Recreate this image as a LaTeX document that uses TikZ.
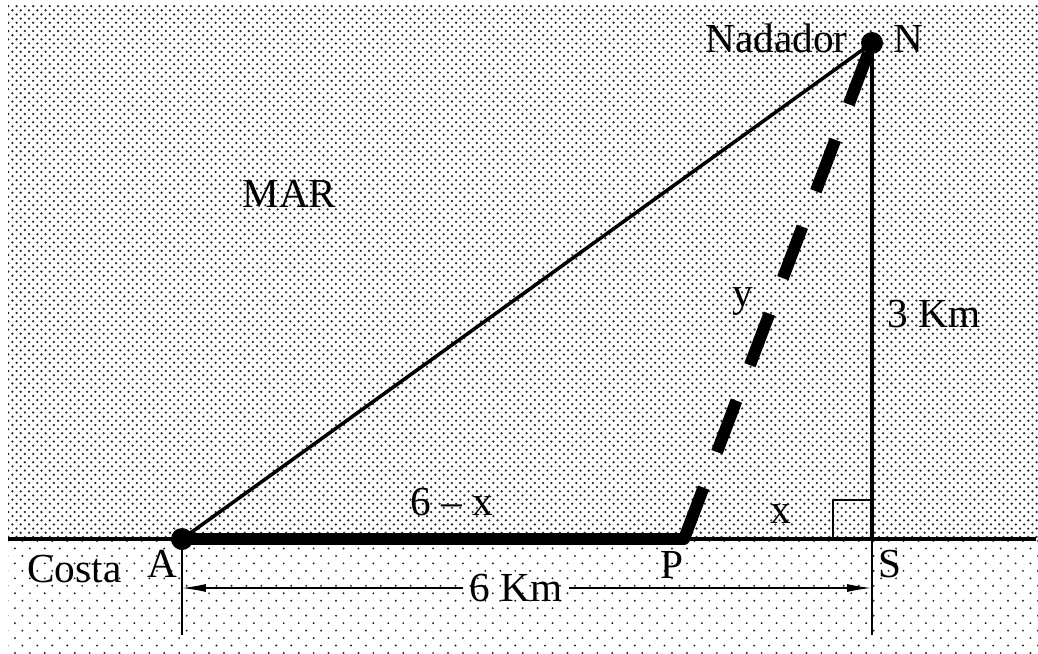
\documentclass[tikz,border=0pt]{standalone}
\usepackage{fontspec}
\setmainfont{Liberation Serif}
\usepackage{tikz}
\usetikzlibrary{arrows.meta, positioning, patterns}

\pgfdeclarepatternformonly{sea dots}{\pgfqpoint{-0.8pt}{-0.8pt}}{\pgfqpoint{3.2pt}{3.2pt}}{\pgfqpoint{4.72pt}{4.72pt}}{%
  \pgfpathcircle{\pgfpointorigin}{0.72pt}%
  \pgfpathcircle{\pgfqpoint{2.36pt}{2.36pt}}{0.72pt}%
  \pgfusepath{fill}}
\pgfdeclarepatternformonly{land dots}{\pgfqpoint{-0.8pt}{-0.8pt}}{\pgfqpoint{5.1pt}{5.1pt}}{\pgfqpoint{8.5pt}{8.5pt}}{%
  \pgfpathcircle{\pgfpointorigin}{0.62pt}%
  \pgfpathcircle{\pgfqpoint{4.25pt}{4.25pt}}{0.62pt}%
  \pgfusepath{fill}}

\begin{document}
\begin{tikzpicture}[x=0.02cm, y=-0.02cm,
    sea/.style={pattern=sea dots, pattern color=black!85},
    land/.style={pattern=land dots, pattern color=black!85},
    pointdot/.style={circle, fill=black, inner sep=0pt, minimum size=0.44cm},
    label text/.style={inner sep=0pt, font=\fontsize{23.5}{28}\selectfont},
    main line/.style={line width=2pt},
    fine line/.style={line width=0.9pt},
    swim/.style={line width=0.24cm, line cap=round},
    swim dashed/.style={line width=0.24cm, dash pattern=on 1.1cm off 0.76cm},
    dim arrow/.style={-{Latex[length=0.48cm, width=0.16cm]}, line width=0.6pt},
]

    \useasboundingbox (0,0) rectangle (1038,653);

    % ── Sea and shore ──
    \fill[sea] (8,5) rectangle (1038,539);
    \fill[land] (8,539) rectangle (1038,653);

    \coordinate (coastW) at (8,539);
    \coordinate (coastE) at (1036,539);
    \coordinate (A) at (182,539);
    \coordinate (P) at (684,539);
    \coordinate (S) at (872,539);
    \coordinate (N) at (872,43);
    \coordinate (Adown) at (182,635);
    \coordinate (Sdown) at (872,635);

    \draw[main line] (coastW) -- (coastE);

    % ── Triangle ──
    \draw[main line] (A) -- (N);
    \draw[main line] (N) -- (S);
    \draw[fine line] (A) -- (Adown);
    \draw[fine line] (S) -- (Sdown);
    \draw[fine line] ([xshift=-0.78cm]S) |- ([yshift=0.78cm]S);

    \draw[swim] (A) -- (P);
    \draw[swim dashed] (P) -- (N);

    \node[pointdot] (Adot) at (A) {};
    \node[pointdot] (Ndot) at (N) {};

    % ── Dimension ──
    \coordinate (dimA) at (182,588);
    \coordinate (dimS) at (871,588);
    \node[label text, inner sep=0.12cm] (dimlabel) at (516,588) {6 Km};
    \draw[dim arrow] (dimlabel) -- (dimA);
    \draw[dim arrow] (dimlabel) -- (dimS);

    % ── Labels ──
    \node[label text, anchor=base east] (nadador) at (848,52) {Nadador};
    \node[label text, anchor=base west] (nlabel) at (893,52) {N};
    \node[label text, anchor=base west] (mar) at (242,207) {MAR};
    \node[label text, anchor=base west] (ylabel) at (732,306) {y};
    \node[label text, anchor=base west] (nslabel) at (887,327) {3 Km};
    \node[label text, anchor=base west] (aplabel) at (410,515) {6 – x};
    \node[label text, anchor=base west] (pslabel) at (770,523) {x};
    \node[label text, anchor=base west] (costa) at (27,582) {Costa};
    \node[label text, anchor=base west] (alabel) at (147,577) {A};
    \node[label text, anchor=base west] (plabel) at (660,578) {P};
    \node[label text, anchor=base west] (slabel) at (878,577) {S};

\end{tikzpicture}
\end{document}
